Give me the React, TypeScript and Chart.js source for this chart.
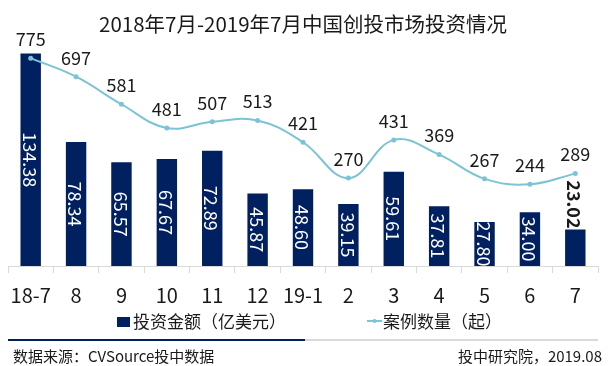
import React, { useEffect, useRef } from 'react';
import { Chart, registerables } from 'chart.js';

Chart.register(...registerables);

const FONT = '"Noto Sans CJK SC", "Noto Sans", sans-serif';

const titleText = '2018年7月-2019年7月中国创投市场投资情况';
const categories = ['18-7', '8', '9', '10', '11', '12', '19-1', '2', '3', '4', '5', '6', '7'];
const investAmount = [134.38, 78.34, 65.57, 67.67, 72.89, 45.87, 48.6, 39.15, 59.61, 37.81, 27.8, 34.0, 23.02];
const caseCount = [775, 697, 581, 481, 507, 513, 421, 270, 431, 369, 267, 244, 289];
const seriesNames = ['投资金额（亿美元）', '案例数量（起）'];
const sourceText = '数据来源：CVSource投中数据';
const creditText = '投中研究院，2019.08';

const BAR_COLOR = '#002060';
const LINE_COLOR = '#7cc3d5';
const TEXT_COLOR = '#1a1a1a';
const OUTSIDE_LABEL_BELOW = 25;

const labelPlugin = {
  id: 'customLabels',
  afterDatasetsDraw(chart: any) {
    const ctx = chart.ctx as CanvasRenderingContext2D;
    const barMeta = chart.getDatasetMeta(0);
    const lineMeta = chart.getDatasetMeta(1);
    ctx.save();
    ctx.textAlign = 'center';
    ctx.textBaseline = 'middle';
    barMeta.data.forEach((el: any, i: number) => {
      const v = investAmount[i];
      const text = v.toFixed(2);
      const p = el.getProps(['x', 'y', 'base'], true);
      const outside = v < OUTSIDE_LABEL_BELOW;
      ctx.font = (outside ? 'bold ' : '') + '18px ' + FONT;
      const w = ctx.measureText(text).width;
      const cy = outside ? p.y - 1 - w / 2 : (p.y + p.base) / 2;
      ctx.save();
      ctx.translate(p.x, cy);
      ctx.rotate(Math.PI / 2);
      ctx.fillStyle = outside ? TEXT_COLOR : '#ffffff';
      ctx.fillText(text, 0, 1);
      ctx.restore();
    });
    ctx.font = '18px ' + FONT;
    ctx.fillStyle = TEXT_COLOR;
    lineMeta.data.forEach((el: any, i: number) => {
      const p = el.getProps(['x', 'y'], true);
      ctx.fillText(String(caseCount[i]), p.x, p.y - 19);
    });
    ctx.restore();
  },
  afterDraw(chart: any) {
    const ctx = chart.ctx as CanvasRenderingContext2D;
    ctx.save();
    // legend
    const ly = 322;
    ctx.fillStyle = BAR_COLOR;
    ctx.fillRect(117, ly - 5, 13, 10);
    ctx.font = '17px ' + FONT;
    ctx.textBaseline = 'middle';
    ctx.textAlign = 'left';
    ctx.fillStyle = TEXT_COLOR;
    ctx.fillText(seriesNames[0], 133, ly);
    ctx.strokeStyle = LINE_COLOR;
    ctx.lineWidth = 2;
    ctx.beginPath();
    ctx.moveTo(367, ly - 1);
    ctx.lineTo(382, ly - 1);
    ctx.stroke();
    ctx.fillStyle = LINE_COLOR;
    ctx.beginPath();
    ctx.arc(374.5, ly - 1, 2, 0, Math.PI * 2);
    ctx.fill();
    ctx.fillStyle = TEXT_COLOR;
    ctx.fillText(seriesNames[1], 383, ly);
    // separator
    ctx.fillStyle = '#d9d9d9';
    ctx.fillRect(305, 339, 293, 2);
    ctx.fillStyle = BAR_COLOR;
    ctx.fillRect(8, 339, 297, 2);
    // footer
    ctx.font = '15px ' + FONT;
    ctx.fillStyle = TEXT_COLOR;
    ctx.textAlign = 'left';
    ctx.fillText(sourceText, 13, 356);
    ctx.textAlign = 'right';
    ctx.fillText(creditText, 602, 356);
    ctx.restore();
  },
};

export default function App() {
  const ref = useRef<HTMLCanvasElement | null>(null);
  useEffect(() => {
    document.body.style.margin = '0';
    const canvas = ref.current;
    if (!canvas) return;
    const chart = new Chart(canvas, {
      type: 'bar',
      data: {
        labels: categories,
        datasets: [
          {
            type: 'bar',
            label: seriesNames[0],
            data: investAmount,
            backgroundColor: BAR_COLOR,
            yAxisID: 'y',
            order: 1,
            barPercentage: 0.45,
            categoryPercentage: 1,
          },
          {
            type: 'line',
            label: seriesNames[1],
            data: caseCount,
            borderColor: LINE_COLOR,
            backgroundColor: LINE_COLOR,
            borderWidth: 2,
            tension: 0.4,
            pointRadius: 2.5,
            pointBorderWidth: 0,
            pointBackgroundColor: LINE_COLOR,
            yAxisID: 'y1',
            order: 0,
          },
        ],
      } as any,
      options: {
        responsive: false,
        animation: false,
        devicePixelRatio: 1,
        layout: { padding: { left: 8, right: 12, top: 0, bottom: 49 } },
        plugins: {
          legend: { display: false },
          tooltip: { enabled: false },
          title: {
            display: true,
            text: titleText,
            color: TEXT_COLOR,
            font: { family: FONT, size: 20.5, weight: 'normal' },
            padding: { top: 12, bottom: 4 },
          },
        },
        scales: {
          x: {
            grid: { offset: true, drawOnChartArea: false, tickLength: 7, color: '#d9d9d9' },
            border: { color: '#d9d9d9' },
            ticks: { color: TEXT_COLOR, font: { family: FONT, size: 20 }, padding: 10, maxRotation: 0 },
          },
          y: { display: false, min: 0, max: 142.5 },
          y1: { display: false, min: -100, max: 849, position: 'right' },
        },
      } as any,
      plugins: [labelPlugin],
    });
    return () => chart.destroy();
  }, []);
  return (
    <div style={{ width: 610, height: 366, background: '#fff' }}>
      <canvas ref={ref} width={610} height={366} />
    </div>
  );
}
